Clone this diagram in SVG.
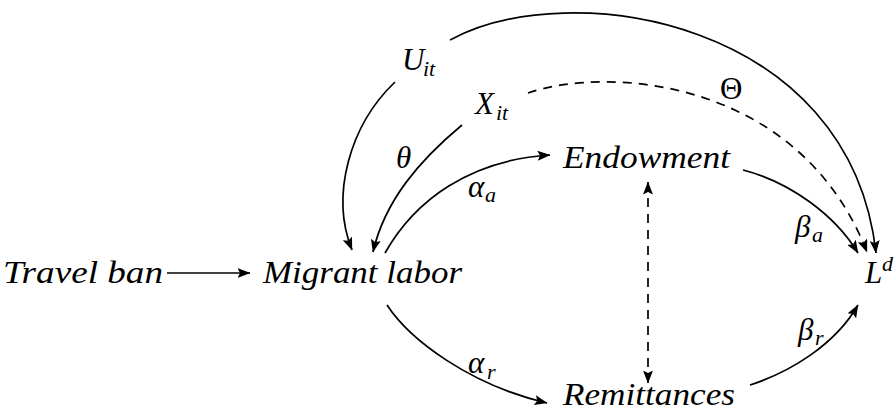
<svg xmlns="http://www.w3.org/2000/svg" width="896" height="415" viewBox="0 0 896 415">
<style>
.t{font-style:italic;font-size:31px}
.s{font-style:italic;font-size:22px}
.u{font-style:normal;font-size:31px}
.e{fill:none;stroke:#000;stroke-width:1.7;marker-end:url(#ah)}
.d{stroke-dasharray:9 7}
</style>
<defs>
<marker id="ah" markerUnits="userSpaceOnUse" viewBox="0 0 13 10" refX="12.5" refY="5" markerWidth="13" markerHeight="10" orient="auto-start-reverse">
<path d="M0,0 L13,5 L0,10 L2.5,5 z" fill="#000"/>
</marker>
</defs>
<g id="edges">
<path class="e" d="M167,273 L250,273"/>
<path class="e" d="M395,82 C350,125 330,195 352,250"/>
<path class="e" d="M462,125 C420,160 385,200 373,252"/>
<path class="e" d="M385,253 C415,200 470,160 550,155"/>
<path class="e" d="M387,305 C410,340 470,385 547,403"/>
<path class="e" d="M750,385 C790,372 835,345 858,305"/>
<path class="e" d="M743,170 C790,182 835,215 858,253"/>
<path class="e d" d="M528,93 C610,65 800,80 867,252"/>
<path class="e" d="M450,40 C570,-25 850,20 876,253"/>
<path class="e d" d="M648,182 L648,383" style="marker-start:url(#ah)"/>
</g>
<g font-family="Liberation Serif, Times New Roman, Times, DejaVu Serif, serif" fill="#000">
<g id="labels">
<text class="t" x="396" y="168">θ</text>
<text class="t" x="468" y="197">α</text><text class="s" x="485" y="202">a</text>
<text class="u" x="720" y="99">Θ</text>
<text class="t" x="795" y="237">β</text><text class="s" x="812" y="242">a</text>
<text class="t" x="798" y="340">β</text><text class="s" x="815" y="345">r</text>
<text class="t" x="468" y="373">α</text><text class="s" x="487" y="379">r</text>
</g>
<g id="travel-ban"><text class="t" x="3" y="283" textLength="160" lengthAdjust="spacingAndGlyphs">Travel ban</text></g>
<g id="migrant-labor"><text class="t" x="263" y="283" textLength="199" lengthAdjust="spacingAndGlyphs">Migrant labor</text></g>
<g id="endowment"><text class="t" x="563" y="168" textLength="167" lengthAdjust="spacingAndGlyphs">Endowment</text></g>
<g id="remittances"><text class="t" x="563" y="405" textLength="172" lengthAdjust="spacingAndGlyphs">Remittances</text></g>
<g id="u-it"><text class="t" x="402" y="70">U</text><text class="s" x="423" y="76">it</text></g>
<g id="x-it"><text class="t" x="475" y="114">X</text><text class="s" x="496" y="120">it</text></g>
<g id="l-d"><text class="t" x="865" y="283">L</text><text class="s" x="882" y="271">d</text></g>
</g>
</svg>
